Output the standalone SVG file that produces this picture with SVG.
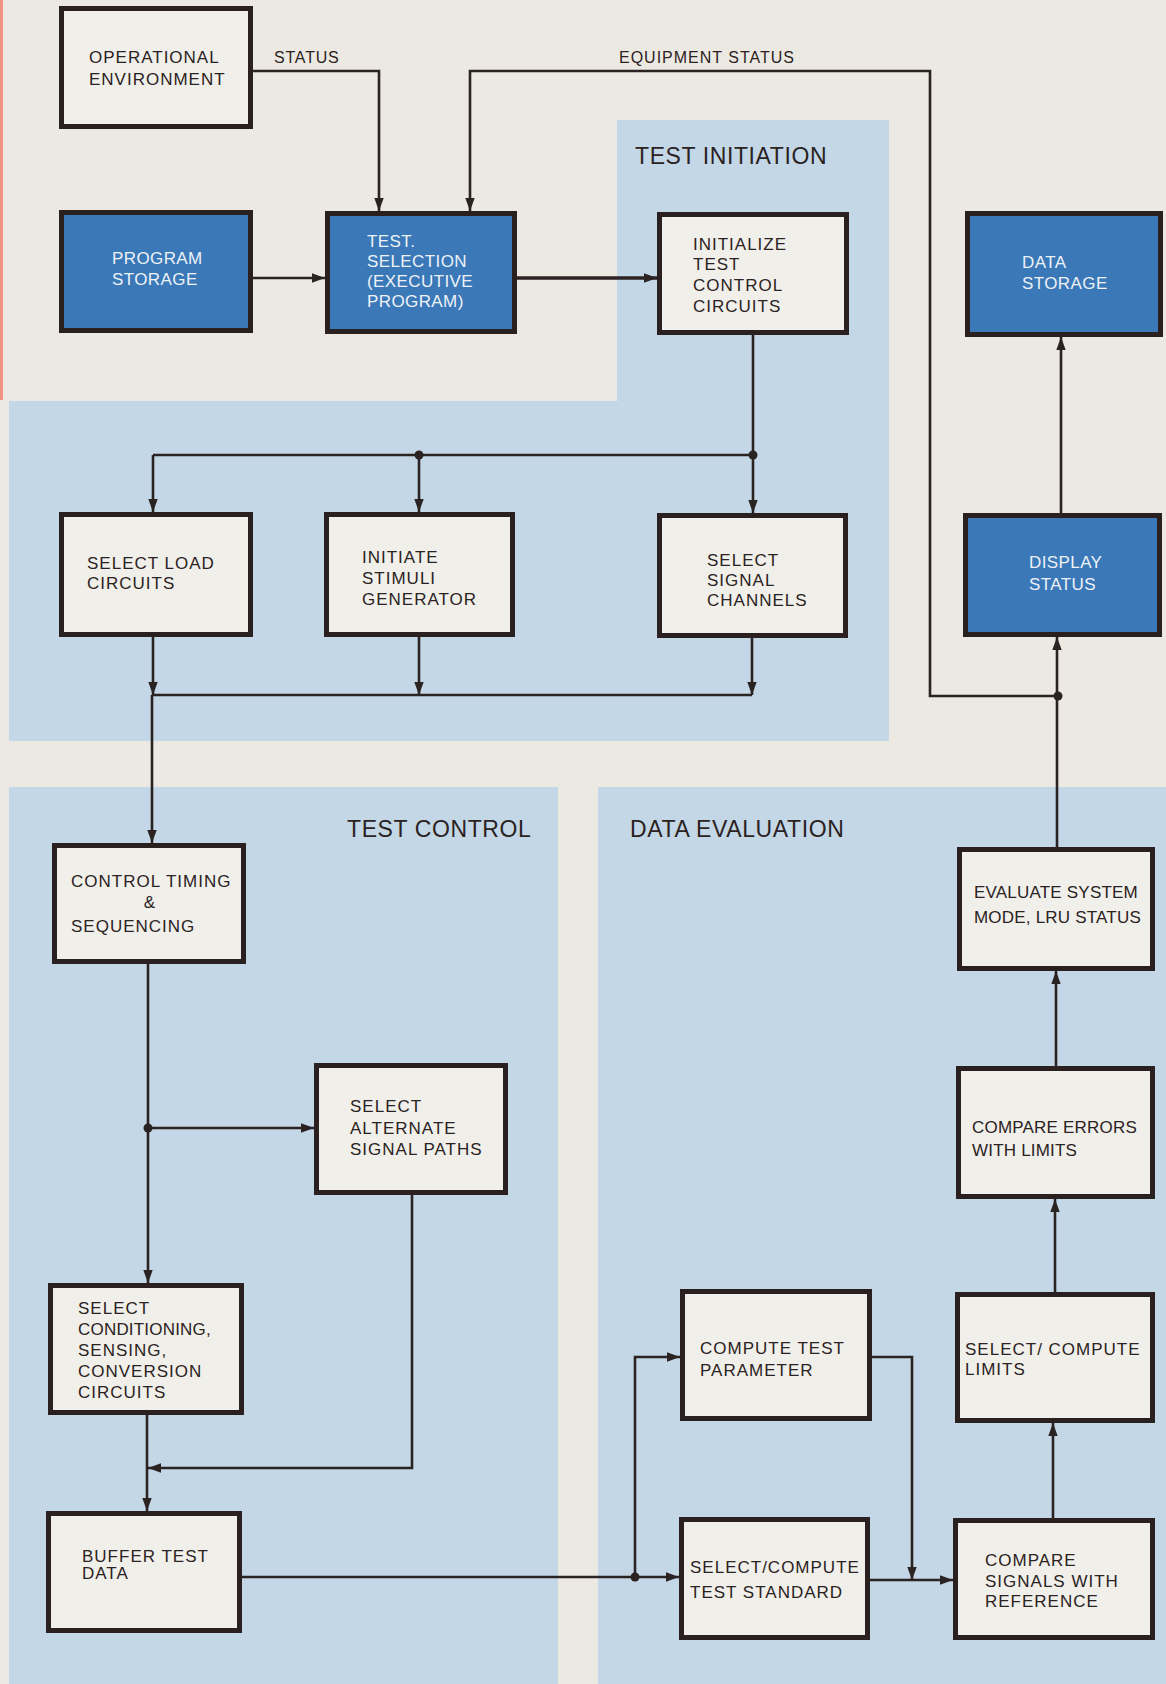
<svg xmlns="http://www.w3.org/2000/svg" width="1166" height="1684" viewBox="0 0 1166 1684">
<defs>
<marker id="arr" markerUnits="userSpaceOnUse" markerWidth="14" markerHeight="11" refX="13" refY="5" orient="auto">
<path d="M0,0.3 L13,5 L0,9.7 z" fill="#2b2222"/>
</marker>
<style>
.bg{fill:#ece9e3}
.reg{fill:#c3d7e7}
.box{fill:#f1efea;stroke:#2b2020;stroke-width:5}
.bbox{fill:#3a78b7;stroke:#2b2020;stroke-width:5}
.t{font-family:"Liberation Sans",Arial,sans-serif;font-size:17px;letter-spacing:1px;fill:#2b2222}
.n{letter-spacing:0.2px}
.w{font-family:"Liberation Sans",Arial,sans-serif;font-size:17px;letter-spacing:0.4px;fill:#eef2f7}
.lbl{font-family:"Liberation Sans",Arial,sans-serif;font-size:16px;letter-spacing:0.8px;fill:#2b2222}
.h{font-family:"Liberation Sans",Arial,sans-serif;font-size:23px;letter-spacing:0.6px;fill:#2b2222}
.c{fill:none;stroke:#2b2222;stroke-width:2.6}
.d{fill:#2b2222}
</style>
</defs>
<rect class="bg" x="0" y="0" width="1166" height="1684"/>
<rect x="0" y="0" width="3" height="400" fill="#f29484"/>
<g id="regions">
<path class="reg" d="M617,120 H889 V741 H9 V401 H617 Z"/>
<rect class="reg" x="9" y="787" width="549" height="897"/>
<rect class="reg" x="598" y="787" width="568" height="897"/>
<text class="h" x="635" y="164">TEST INITIATION</text>
<text class="h" x="347" y="837">TEST CONTROL</text>
<text class="h" x="630" y="837">DATA EVALUATION</text>
</g>
<g id="connectors">
<path class="c" d="M253,71 H379 V211" marker-end="url(#arr)"/>
<path class="c" d="M1058,696 H930 V71 H470 V211" marker-end="url(#arr)"/>
<path class="c" d="M253,278 H325" marker-end="url(#arr)"/>
<path class="c" d="M517,278 H657" style="stroke-width:3.4" marker-end="url(#arr)"/>
<path class="c" d="M753,335 V455 H153"/>
<path class="c" d="M153,455 V512" marker-end="url(#arr)"/>
<path class="c" d="M419,455 V512" marker-end="url(#arr)"/>
<path class="c" d="M753,455 V513" marker-end="url(#arr)"/>
<circle class="d" cx="419" cy="455" r="4.5"/>
<circle class="d" cx="753" cy="455" r="4.5"/>
<path class="c" d="M153,637 V695" marker-end="url(#arr)"/>
<path class="c" d="M419,637 V695" marker-end="url(#arr)"/>
<path class="c" d="M752,638 V695" marker-end="url(#arr)"/>
<path class="c" d="M153,695 H752"/>
<path class="c" d="M152,695 V843" marker-end="url(#arr)"/>
<path class="c" d="M148,964 V1283" marker-end="url(#arr)"/>
<circle class="d" cx="148" cy="1128" r="4.5"/>
<path class="c" d="M148,1128 H314" marker-end="url(#arr)"/>
<path class="c" d="M412,1195 V1468 H148" marker-end="url(#arr)"/>
<path class="c" d="M147,1415 V1511" marker-end="url(#arr)"/>
<path class="c" d="M242,1577 H679" marker-end="url(#arr)"/>
<circle class="d" cx="635" cy="1577" r="4.5"/>
<path class="c" d="M635,1577 V1357 H680" marker-end="url(#arr)"/>
<path class="c" d="M872,1357 H912 V1580" marker-end="url(#arr)"/>
<path class="c" d="M870,1580 H953" marker-end="url(#arr)"/>
<path class="c" d="M1053,1518 V1423" marker-end="url(#arr)"/>
<path class="c" d="M1055,1292 V1199" marker-end="url(#arr)"/>
<path class="c" d="M1056,1066 V971" marker-end="url(#arr)"/>
<path class="c" d="M1057,847 V637" marker-end="url(#arr)"/>
<circle class="d" cx="1058" cy="696" r="4.5"/>
<path class="c" d="M1061,513 V337" marker-end="url(#arr)"/>
<text class="lbl" x="274" y="63">STATUS</text>
<text class="lbl" x="619" y="63" style="letter-spacing:1px">EQUIPMENT STATUS</text>
</g>
<g id="n-operational">
<rect class="box" x="61.5" y="8.5" width="189" height="118"/>
<text class="t" x="89" y="63">OPERATIONAL</text>
<text class="t" x="89" y="85">ENVIRONMENT</text>
</g>
<g id="n-program-storage">
<rect class="bbox" x="61.5" y="212.5" width="189" height="118"/>
<text class="w" x="112" y="264">PROGRAM</text>
<text class="w" x="112" y="285">STORAGE</text>
</g>
<g id="n-test-selection">
<rect class="bbox" x="327.5" y="213.5" width="187" height="118"/>
<text class="w" x="367" y="247">TEST.</text>
<text class="w" x="367" y="267">SELECTION</text>
<text class="w" x="367" y="287">(EXECUTIVE</text>
<text class="w" x="367" y="307">PROGRAM)</text>
</g>
<g id="n-initialize">
<rect class="box" x="659.5" y="214.5" width="187" height="118"/>
<text class="t" x="693" y="250">INITIALIZE</text>
<text class="t" x="693" y="270">TEST</text>
<text class="t" x="693" y="291">CONTROL</text>
<text class="t" x="693" y="312">CIRCUITS</text>
</g>
<g id="n-data-storage">
<rect class="bbox" x="967.5" y="213.5" width="193" height="121"/>
<text class="w" x="1022" y="268">DATA</text>
<text class="w" x="1022" y="289">STORAGE</text>
</g>
<g id="n-select-load">
<rect class="box" x="61.5" y="514.5" width="189" height="120"/>
<text class="t" x="87" y="569">SELECT LOAD</text>
<text class="t" x="87" y="589">CIRCUITS</text>
</g>
<g id="n-initiate-stimuli">
<rect class="box" x="326.5" y="514.5" width="186" height="120"/>
<text class="t" x="362" y="563">INITIATE</text>
<text class="t" x="362" y="584">STIMULI</text>
<text class="t" x="362" y="605">GENERATOR</text>
</g>
<g id="n-select-signal">
<rect class="box" x="659.5" y="515.5" width="186" height="120"/>
<text class="t" x="707" y="566">SELECT</text>
<text class="t" x="707" y="586">SIGNAL</text>
<text class="t" x="707" y="606">CHANNELS</text>
</g>
<g id="n-display-status">
<rect class="bbox" x="965.5" y="515.5" width="194" height="119"/>
<text class="w" x="1029" y="568">DISPLAY</text>
<text class="w" x="1029" y="590">STATUS</text>
</g>
<g id="n-control-timing">
<rect class="box" x="54.5" y="845.5" width="189" height="116"/>
<text class="t" x="71" y="887">CONTROL TIMING</text>
<text class="t" x="150" y="908" text-anchor="middle">&amp;</text>
<text class="t" x="71" y="932">SEQUENCING</text>
</g>
<g id="n-evaluate">
<rect class="box" x="959.5" y="849.5" width="193" height="119"/>
<text class="t n" x="974" y="898">EVALUATE SYSTEM</text>
<text class="t n" x="974" y="923">MODE, LRU STATUS</text>
</g>
<g id="n-select-alternate">
<rect class="box" x="316.5" y="1065.5" width="189" height="127"/>
<text class="t" x="350" y="1112">SELECT</text>
<text class="t" x="350" y="1134">ALTERNATE</text>
<text class="t" x="350" y="1155">SIGNAL PATHS</text>
</g>
<g id="n-compare-errors">
<rect class="box" x="958.5" y="1068.5" width="194" height="128"/>
<text class="t n" x="972" y="1133">COMPARE ERRORS</text>
<text class="t n" x="972" y="1156">WITH LIMITS</text>
</g>
<g id="n-select-conditioning">
<rect class="box" x="50.5" y="1285.5" width="191" height="127"/>
<text class="t" x="78" y="1314">SELECT</text>
<text class="t n" x="78" y="1335">CONDITIONING,</text>
<text class="t" x="78" y="1356">SENSING,</text>
<text class="t" x="78" y="1377">CONVERSION</text>
<text class="t" x="78" y="1398">CIRCUITS</text>
</g>
<g id="n-compute-test-parameter">
<rect class="box" x="682.5" y="1291.5" width="187" height="127"/>
<text class="t" x="700" y="1354">COMPUTE TEST</text>
<text class="t" x="700" y="1376">PARAMETER</text>
</g>
<g id="n-select-compute-limits">
<rect class="box" x="957.5" y="1294.5" width="195" height="126"/>
<text class="t" x="965" y="1355">SELECT/ COMPUTE</text>
<text class="t" x="965" y="1375">LIMITS</text>
</g>
<g id="n-buffer">
<rect class="box" x="48.5" y="1513.5" width="191" height="117"/>
<text class="t" x="82" y="1562">BUFFER TEST</text>
<text class="t" x="82" y="1579">DATA</text>
</g>
<g id="n-select-compute-standard">
<rect class="box" x="681.5" y="1519.5" width="186" height="118"/>
<text class="t" x="690" y="1573">SELECT/COMPUTE</text>
<text class="t" x="690" y="1598">TEST STANDARD</text>
</g>
<g id="n-compare-signals">
<rect class="box" x="955.5" y="1520.5" width="197" height="117"/>
<text class="t" x="985" y="1566">COMPARE</text>
<text class="t" x="985" y="1587">SIGNALS WITH</text>
<text class="t" x="985" y="1607">REFERENCE</text>
</g>
</svg>
